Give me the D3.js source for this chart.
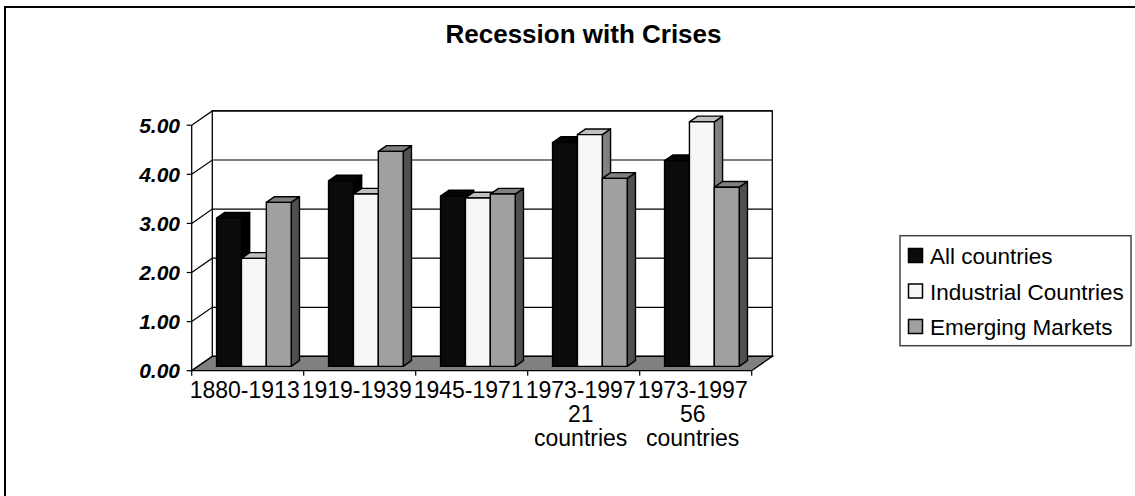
<!DOCTYPE html>
<html>
<head>
<meta charset="utf-8">
<script src="https://cdn.jsdelivr.net/npm/d3@7"></script>
<style>
  html, body { margin: 0; padding: 0; background: #fff; }
  svg { display: block; font-family: Arial, "Liberation Sans", sans-serif; }
</style>
</head>
<body>
<svg id="chart" width="1135" height="496"></svg>
<script>
// Recession with Crises — 3D clustered columns
const categories = [
  ["1880-1913"],
  ["1919-1939"],
  ["1945-1971"],
  ["1973-1997", "21", "countries"],
  ["1973-1997", "56", "countries"]
];
const seriesNames = ["All countries", "Industrial Countries", "Emerging Markets"];
const allCountries = [3.02, 3.78, 3.47, 4.56, 4.19];
const industrialCountries = [2.20, 3.51, 3.43, 4.72, 4.98];
const emergingMarkets = [3.34, 4.38, 3.51, 3.83, 3.65];
const yTicks = [0, 1, 2, 3, 4, 5];

const seriesValues = [allCountries, industrialCountries, emergingMarkets];
const faceColors = [
  { front: "#0b0b0b", top: "#050505", side: "#000000", swatch: "#0b0b0b" },
  { front: "#f7f7f7", top: "#c0c0c0", side: "#808080", swatch: "#f7f7f7" },
  { front: "#a0a0a0", top: "#808080", side: "#505050", swatch: "#a0a0a0" }
];

const svg = d3.select("#chart");

// outer chart border
svg.append("rect").attr("x", 5).attr("y", 7).attr("width", 1140).attr("height", 500)
  .attr("fill", "none").attr("stroke", "#000").attr("stroke-width", 2);

// title
svg.append("text").attr("x", 583.5).attr("y", 43).attr("text-anchor", "middle")
  .attr("font-size", 26).attr("font-weight", "bold").text("Recession with Crises");

// plot geometry: front-left floor corner and depth vector
const ox = 191.7, oy = 370.7;
const depth = { dx: 20.6, dy: -14.3 };
const plotW = 560;

const x = d3.scaleBand().domain(d3.range(categories.length)).range([0, plotW]);
const barW = x.bandwidth() / 4.5;             // gap width 150%
const xs = d3.scaleBand().domain(d3.range(seriesNames.length))
  .range([barW * 0.75, x.bandwidth() - barW * 0.75]);
const y = d3.scaleLinear().domain([0, 5]).range([0, 245.5]);

// projection: horizontal offset, value, depth fraction -> screen
function P(px, v, d) {
  return [ox + px + d * depth.dx, oy - y(v) + d * depth.dy];
}
function poly(pts) { return "M" + pts.map(p => p.join(",")).join("L") + "Z"; }

const g = svg.append("g");

// back wall
g.append("path")
  .attr("d", poly([P(0, 0, 1), P(plotW, 0, 1), P(plotW, 5, 1), P(0, 5, 1)]))
  .attr("fill", "#fff").attr("stroke", "#000").attr("stroke-width", 1.3);

// gridlines on back wall and left wall
yTicks.forEach(t => {
  const a = P(0, t, 0), b = P(0, t, 1), c = P(plotW, t, 1);
  g.append("path").attr("d", `M${a}L${b}L${c}`)
    .attr("fill", "none").attr("stroke", "#000").attr("stroke-width", 1.2);
  // tick mark on the value axis
  g.append("line").attr("x1", a[0] - 5).attr("x2", a[0]).attr("y1", a[1]).attr("y2", a[1])
    .attr("stroke", "#000").attr("stroke-width", 1.2);
  g.append("text").attr("x", 180).attr("y", a[1] + 7.5).attr("text-anchor", "end")
    .attr("font-size", 21).attr("font-weight", "bold").attr("font-style", "italic")
    .text(t.toFixed(2));
});

// left wall front edge (value axis line)
g.append("line").attr("x1", P(0,0,0)[0]).attr("y1", P(0,0,0)[1]).attr("x2", P(0,5,0)[0]).attr("y2", P(0,5,0)[1])
  .attr("stroke", "#000").attr("stroke-width", 1.3);

// floor
g.append("path")
  .attr("d", poly([P(0, 0, 0), P(plotW, 0, 0), P(plotW, 0, 1), P(0, 0, 1)]))
  .attr("fill", "#808080").attr("stroke", "#000").attr("stroke-width", 1.3);

// category ticks along the floor front edge
d3.range(categories.length + 1).forEach(i => {
  const p = P(i * x.bandwidth(), 0, 0);
  g.append("line").attr("x1", p[0]).attr("x2", p[0]).attr("y1", p[1]).attr("y2", p[1] + 5)
    .attr("stroke", "#000").attr("stroke-width", 1.2);
});

// bars
const d0 = 0.3, d1 = 0.7;
categories.forEach((cat, ci) => {
  seriesValues.forEach((vals, si) => {
    const v = vals[ci];
    const xl = x(ci) + xs(si), xr = xl + barW;
    const col = faceColors[si];
    const face = (pts, fill) => g.append("path").attr("d", poly(pts))
      .attr("fill", fill).attr("stroke", "#000").attr("stroke-width", 1.4)
      .attr("stroke-linejoin", "round");
    face([P(xr, 0, d0), P(xr, 0, d1), P(xr, v, d1), P(xr, v, d0)], col.side);
    face([P(xl, v, d0), P(xr, v, d0), P(xr, v, d1), P(xl, v, d1)], col.top);
    face([P(xl, 0, d0), P(xr, 0, d0), P(xr, v, d0), P(xl, v, d0)], col.front);
  });
  // category label
  const cx = P(x(ci) + x.bandwidth() / 2, 0, 0)[0] - 3;
  const t = g.append("text").attr("text-anchor", "middle").attr("font-size", 23);
  cat.forEach((line, li) => {
    t.append("tspan").attr("x", cx).attr("y", 398 + li * 24).text(line);
  });
});

// legend
const lg = svg.append("g");
lg.append("rect").attr("x", 900).attr("y", 235.7).attr("width", 231).attr("height", 110)
  .attr("fill", "#fff").attr("stroke", "#444").attr("stroke-width", 1.5);
seriesNames.forEach((name, i) => {
  const cy = 256 + i * 35.5;
  lg.append("rect").attr("x", 908.5).attr("y", cy - 7.5).attr("width", 14).attr("height", 14)
    .attr("fill", faceColors[i].swatch).attr("stroke", "#000").attr("stroke-width", 1.5);
  lg.append("text").attr("x", 930).attr("y", cy + 8).attr("font-size", 22.5).text(name);
});
</script>
</body>
</html>
